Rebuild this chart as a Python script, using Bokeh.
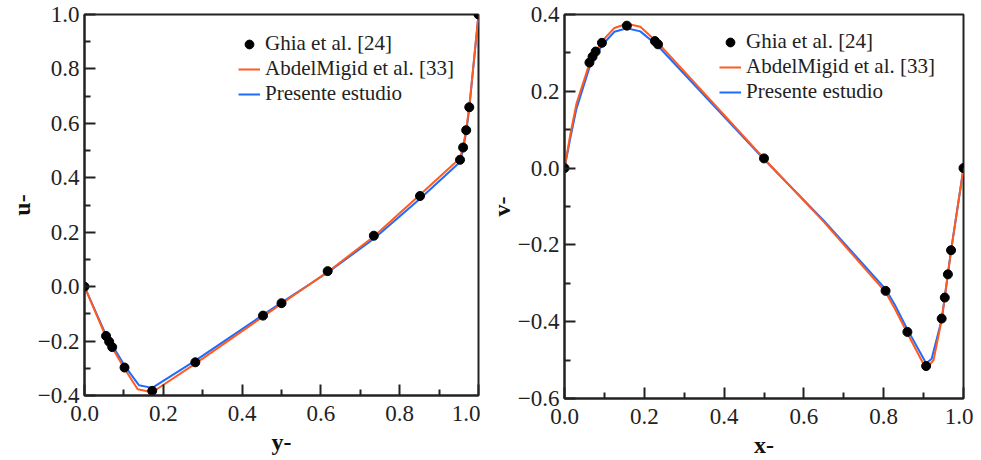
from bokeh.plotting import figure
from bokeh.layouts import row
from bokeh.models import Range1d, FixedTicker, Legend, LegendItem
from bokeh.embed import file_html
from bokeh.resources import INLINE

# ---------------- data: left panel (u- vs y-) ----------------
ghia_y = [0.0, 0.0547, 0.0625, 0.0703, 0.1016, 0.1719, 0.2813, 0.4531, 0.5,
          0.6172, 0.7344, 0.8516, 0.9531, 0.9609, 0.9688, 0.9766, 1.0]
ghia_u = [0.0, -0.18109, -0.20196, -0.22220, -0.29730, -0.38289, -0.27805,
          -0.10648, -0.06080, 0.05702, 0.18719, 0.33304, 0.46604, 0.51117,
          0.57492, 0.65928, 1.0]

abdel_y = [0.0, 0.0547, 0.1016, 0.135, 0.1719, 0.2813, 0.4531, 0.5, 0.6172,
           0.7344, 0.8516, 0.9531, 0.9609, 0.9688, 0.9766, 1.0]
abdel_u = [0.0, -0.185, -0.302, -0.377, -0.388, -0.283, -0.110, -0.063, 0.054,
           0.184, 0.338, 0.472, 0.515, 0.578, 0.662, 1.0]

pres_y = [0.0, 0.0547, 0.1016, 0.138, 0.1719, 0.2813, 0.4531, 0.5, 0.6172,
          0.7344, 0.8516, 0.9531, 0.9609, 0.9688, 0.9766, 1.0]
pres_u = [0.0, -0.178, -0.290, -0.362, -0.372, -0.272, -0.104, -0.059, 0.052,
          0.176, 0.323, 0.458, 0.505, 0.568, 0.655, 1.0]

# ---------------- data: right panel (v- vs x-) ----------------
ghia_x = [0.0, 0.0625, 0.0703, 0.0781, 0.0938, 0.1563, 0.2266, 0.2344, 0.5,
          0.8047, 0.8594, 0.9063, 0.9453, 0.9531, 0.9609, 0.9688, 1.0]
ghia_v = [0.0, 0.27485, 0.29012, 0.30353, 0.32627, 0.37095, 0.33075, 0.32235,
          0.02526, -0.31966, -0.42665, -0.51550, -0.39188, -0.33714, -0.27669,
          -0.21388, 0.0]

abdel_x = [0.0, 0.015, 0.03, 0.0625, 0.0938, 0.125, 0.1563, 0.19, 0.2344, 0.5,
           0.65, 0.8047, 0.83, 0.8594, 0.9063, 0.925, 0.9453, 0.9688, 1.0]
abdel_v = [0.0, 0.09, 0.168, 0.272, 0.330, 0.365, 0.376, 0.368, 0.326, 0.025,
           -0.140, -0.323, -0.370, -0.430, -0.523, -0.500, -0.395, -0.215, 0.0]

pres_x = [0.0, 0.015, 0.03, 0.0625, 0.0938, 0.125, 0.1563, 0.19, 0.2344, 0.5,
          0.65, 0.8047, 0.83, 0.8594, 0.9063, 0.92, 0.9453, 0.9688, 1.0]
pres_v = [0.0, 0.08, 0.155, 0.262, 0.320, 0.355, 0.364, 0.356, 0.318, 0.023,
          -0.137, -0.315, -0.360, -0.420, -0.508, -0.497, -0.395, -0.215, 0.0]

x_ticks = [0.0, 0.2, 0.4, 0.6, 0.8, 1.0]
x_minor = [0.1, 0.3, 0.5, 0.7, 0.9]
u_ticks = [-0.4, -0.2, 0.0, 0.2, 0.4, 0.6, 0.8, 1.0]
u_minor = [-0.3, -0.1, 0.1, 0.3, 0.5, 0.7, 0.9]
v_ticks = [-0.6, -0.4, -0.2, 0.0, 0.2, 0.4]
v_minor = [-0.5, -0.3, -0.1, 0.1, 0.3]

labels = ["Ghia et al. [24]", "AbdelMigid et al. [33]", "Presente estudio"]

ORANGE = "#FF5A1F"
BLUE = "#1F6BFF"
FONT = "Liberation Serif"
NAN = float("nan")


def fmt(v):
    s = "%.1f" % abs(v)
    return ("\u2212" + s) if v < 0 else s


def style_axis(ax, ticks, minor, standoff, label_standoff):
    ax.ticker = FixedTicker(ticks=ticks, minor_ticks=minor)
    ax.major_label_overrides = {t: fmt(t) for t in ticks}
    ax.major_tick_in = 11
    ax.major_tick_out = 0
    ax.minor_tick_in = 6
    ax.minor_tick_out = 0
    ax.major_tick_line_width = 2
    ax.minor_tick_line_width = 2
    ax.major_tick_line_color = "#222222"
    ax.minor_tick_line_color = "#222222"
    ax.axis_line_width = 2
    ax.axis_line_color = "#222222"
    ax.major_label_text_font = FONT
    ax.major_label_text_font_size = "23px"
    ax.major_label_text_color = "#222222"
    ax.major_label_standoff = standoff
    ax.axis_label_text_font = FONT
    ax.axis_label_text_font_size = "24px"
    ax.axis_label_text_font_style = "bold"
    ax.axis_label_text_color = "#111111"
    ax.axis_label_standoff = label_standoff


def make_panel(xs_g, ys_g, xs_a, ys_a, xs_p, ys_p, yr, yticks, yminor,
               xlabel, ylabel, w, h, bl, br, bt, bb, leg_loc):
    p = figure(width=w, height=h, output_backend="svg",
               toolbar_location=None, x_range=Range1d(0, 1),
               y_range=Range1d(*yr), min_border_left=bl, min_border_right=br,
               min_border_top=bt, min_border_bottom=bb)
    p.xgrid.visible = False
    p.ygrid.visible = False
    p.outline_line_color = "#222222"
    p.outline_line_width = 2
    p.background_fill_color = "white"
    p.border_fill_color = "white"
    p.xaxis.axis_label = xlabel
    p.yaxis.axis_label = ylabel
    style_axis(p.xaxis[0], x_ticks, x_minor, 10, 5)
    style_axis(p.yaxis[0], yticks, yminor, 5, 0)

    rb = p.line(xs_p, ys_p, line_color=BLUE, line_width=2)
    ra = p.line(xs_a, ys_a, line_color=ORANGE, line_width=2)
    p.scatter(xs_g, ys_g, size=9, color="black")
    # small marker used only for the legend entry (not drawn in the plot)
    rleg = p.scatter(x=[NAN], y=[NAN], size=6, color="black")

    leg = Legend(items=[LegendItem(label=labels[0], renderers=[rleg]),
                        LegendItem(label=labels[1], renderers=[ra]),
                        LegendItem(label=labels[2], renderers=[rb])],
                 location=leg_loc, padding=0, margin=0, spacing=0,
                 border_line_color=None, background_fill_alpha=0,
                 label_text_font=FONT, label_text_font_size="21px",
                 label_text_color="#222222",
                 glyph_width=22, glyph_height=24, label_height=24,
                 label_standoff=5)
    p.add_layout(leg, "center")
    return p


# left panel: frame 84..478 (x), 14..395 (y)
p1 = make_panel(ghia_y, ghia_u, abdel_y, abdel_u, pres_y, pres_u,
                (-0.4, 1.0), u_ticks, u_minor, "y-", "u-",
                480, 457, 84, 2, 14, 62, (154, 289))
# right panel: frame 564..963 (x), 14..398 (y)
p2 = make_panel(ghia_x, ghia_v, abdel_x, abdel_v, pres_x, pres_v,
                (-0.6, 0.4), v_ticks, v_minor, "x-", "v-",
                493, 460, 84, 10, 14, 62, (155, 294))

layout = row(p1, p2)
open("out.html", "w").write(file_html(layout, INLINE))
